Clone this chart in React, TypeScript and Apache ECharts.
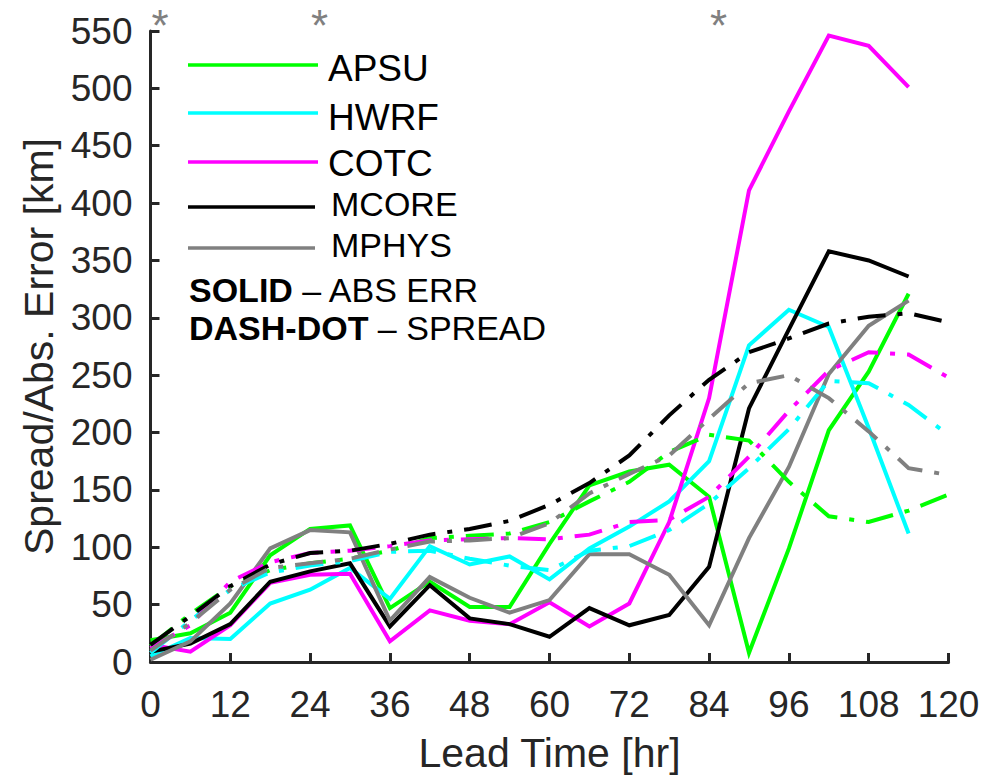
import React, { useEffect, useRef } from "react";
import * as echarts from "echarts";

const FONT = '"Liberation Sans", Arial, Helvetica, sans-serif';
const AXIS_COLOR = "#262626";

// lead times (hr)
const errHours = [0, 6, 12, 18, 24, 30, 36, 42, 48, 54, 60, 66, 72, 78, 84, 90, 96, 102, 108, 114];
const spreadHours = [0, 6, 12, 18, 24, 30, 36, 42, 48, 54, 60, 66, 72, 78, 84, 90, 96, 102, 108, 114, 120];

// absolute error (solid)
const apsuErr = [19, 25, 43, 93, 116, 119, 47, 70, 48, 48, 103, 154, 166, 172, 144, 8, 99, 202, 253, 321];
const hwrfErr = [5, 21, 20, 51, 63, 82, 55, 101, 85, 92, 72, 99, 118, 140, 175, 276, 307, 292, 204, 112];
const cotcErr = [15, 9, 32, 69, 76, 77, 18, 45, 36, 33, 52, 31, 51, 122, 230, 411, 480, 546, 537, 501];
const mcoreErr = [9, 16, 33, 70, 79, 86, 31, 67, 38, 33, 22, 47, 32, 41, 83, 221, 290, 358, 350, 336];
const mphysErr = [2, 18, 51, 99, 115, 113, 36, 74, 56, 43, 54, 94, 94, 76, 32, 108, 170, 251, 293, 315];

// spread (dash-dot)
const apsuSpread = [14, 42, 66, 80, 86, 90, 97, 108, 110, 112, 122, 140, 157, 183, 198, 193, 157, 127, 122, 132, 146];
const hwrfSpread = [8, 36, 63, 78, 84, 88, 96, 97, 90, 84, 80, 97, 101, 115, 138, 169, 203, 245, 243, 224, 198];
const cotcSpread = [12, 32, 70, 87, 95, 97, 101, 106, 107, 108, 107, 111, 122, 124, 144, 179, 219, 254, 270, 268, 248];
const mcoreSpread = [15, 40, 66, 85, 95, 97, 103, 111, 116, 123, 137, 156, 180, 215, 246, 270, 282, 295, 301, 304, 296];
const mphysSpread = [10, 34, 63, 82, 86, 90, 98, 105, 106, 108, 121, 147, 164, 180, 212, 243, 250, 230, 201, 169, 163];

const modelNames = ["APSU", "HWRF", "COTC", "MCORE", "MPHYS"];
const modelColors = ["#00FF00", "#00FFFF", "#FF00FF", "#000000", "#808080"];
const errSets = [apsuErr, hwrfErr, cotcErr, mcoreErr, mphysErr];
const spreadSets = [apsuSpread, hwrfSpread, cotcSpread, mcoreSpread, mphysSpread];

// hours marked with an asterisk above the plot
const starHours = [0, 24, 84];

const xTicks = { min: 0, max: 120, interval: 12 };
const yTicks = { min: 0, max: 550, interval: 50 };

export default function App() {
  const ref = useRef<HTMLDivElement>(null);

  useEffect(() => {
    if (!ref.current) return;
    const chart = echarts.init(ref.current, null, { renderer: "svg" });

    const series: any[] = [];
    modelNames.forEach((name, m) => {
      series.push({
        name: name + " ERR",
        type: "line",
        data: errHours.map((h, i) => [h, errSets[m][i]]),
        symbol: "none",
        showSymbol: false,
        silent: true,
        lineStyle: { color: modelColors[m], width: 4, type: "solid", cap: "butt", join: "miter" },
        z: 2,
      });
    });
    modelNames.forEach((name, m) => {
      series.push({
        name: name + " SPREAD",
        type: "line",
        data: spreadHours.map((h, i) => [h, spreadSets[m][i]]),
        symbol: "none",
        showSymbol: false,
        silent: true,
        lineStyle: { color: modelColors[m], width: 4, type: [28, 12, 5, 12], cap: "butt", join: "miter" },
        z: 3,
      });
    });

    const option: any = {
      animation: false,
      backgroundColor: "#ffffff",
      textStyle: { fontFamily: FONT },
      grid: { left: 150.5, right: 39.5, top: 31, bottom: 114, containLabel: false },
      xAxis: {
        type: "value",
        min: xTicks.min,
        max: xTicks.max,
        interval: xTicks.interval,
        name: "Lead Time [hr]",
        nameLocation: "middle",
        nameGap: 70,
        nameTextStyle: { fontSize: 41, color: AXIS_COLOR, fontFamily: FONT },
        axisLine: { onZero: false, lineStyle: { color: AXIS_COLOR, width: 3 } },
        axisTick: { inside: true, length: 9, lineStyle: { color: AXIS_COLOR, width: 3 } },
        axisLabel: { fontSize: 37, color: AXIS_COLOR, margin: 24, fontFamily: FONT },
        splitLine: { show: false },
      },
      yAxis: {
        type: "value",
        min: yTicks.min,
        max: yTicks.max,
        interval: yTicks.interval,
        name: "Spread/Abs. Error [km]",
        nameLocation: "middle",
        nameGap: 88,
        nameRotate: 90,
        nameTextStyle: { fontSize: 41, color: AXIS_COLOR, fontFamily: FONT },
        axisLine: { show: true, onZero: false, lineStyle: { color: AXIS_COLOR, width: 3 } },
        axisTick: { show: true, inside: true, length: 9, lineStyle: { color: AXIS_COLOR, width: 3 } },
        axisLabel: { fontSize: 37, color: AXIS_COLOR, margin: 18, fontFamily: FONT },
        splitLine: { show: false },
      },
      series,
    };
    chart.setOption(option);

    // legend (drawn as graphics to match layout)
    const legendLineY = [65, 113, 162, 207, 248];
    const legendLineX2 = [318, 318, 318, 315, 315];
    const legendTextX = [328, 328, 328, 331, 331];
    const legendTextY = [68, 117, 163, 204, 245];
    const legendFont = [37, 37, 37, 34, 34];
    const graphics: any[] = [];
    modelNames.forEach((name, m) => {
      graphics.push({
        type: "line",
        shape: { x1: 188, y1: legendLineY[m], x2: legendLineX2[m], y2: legendLineY[m] },
        style: { stroke: modelColors[m], lineWidth: 3.5 },
        silent: true,
      });
      graphics.push({
        type: "text",
        x: legendTextX[m],
        y: legendTextY[m],
        style: {
          text: name,
          fontSize: legendFont[m],
          fontFamily: FONT,
          fill: "#000000",
          align: "left",
          verticalAlign: "middle",
        },
        silent: true,
      });
    });
    graphics.push({
      type: "text",
      x: 189,
      y: 290,
      style: {
        text: "{b|SOLID} – ABS ERR",
        fontSize: 34,
        fontFamily: FONT,
        fill: "#000000",
        align: "left",
        verticalAlign: "middle",
        rich: { b: { fontWeight: "bold", fontSize: 34, fontFamily: FONT, fill: "#000000" } },
      },
      silent: true,
    });
    graphics.push({
      type: "text",
      x: 189,
      y: 328,
      style: {
        text: "{b|DASH-DOT} – SPREAD",
        fontSize: 34,
        fontFamily: FONT,
        fill: "#000000",
        align: "left",
        verticalAlign: "middle",
        rich: { b: { fontWeight: "bold", fontSize: 34, fontFamily: FONT, fill: "#000000" } },
      },
      silent: true,
    });

    starHours.forEach((h) => {
      const px = chart.convertToPixel({ xAxisIndex: 0 }, h) as number;
      graphics.push({
        type: "text",
        x: px + 9.5,
        y: 25,
        style: {
          text: "*",
          fontSize: 44,
          fontFamily: FONT,
          fill: "#808080",
          align: "center",
          verticalAlign: "middle",
        },
        silent: true,
      });
    });

    chart.setOption({ graphic: graphics });

    return () => {
      chart.dispose();
    };
  }, []);

  return (
    <div
      ref={ref}
      style={{ position: "fixed", left: 0, top: 0, width: 988, height: 778, background: "#fff" }}
    />
  );
}
